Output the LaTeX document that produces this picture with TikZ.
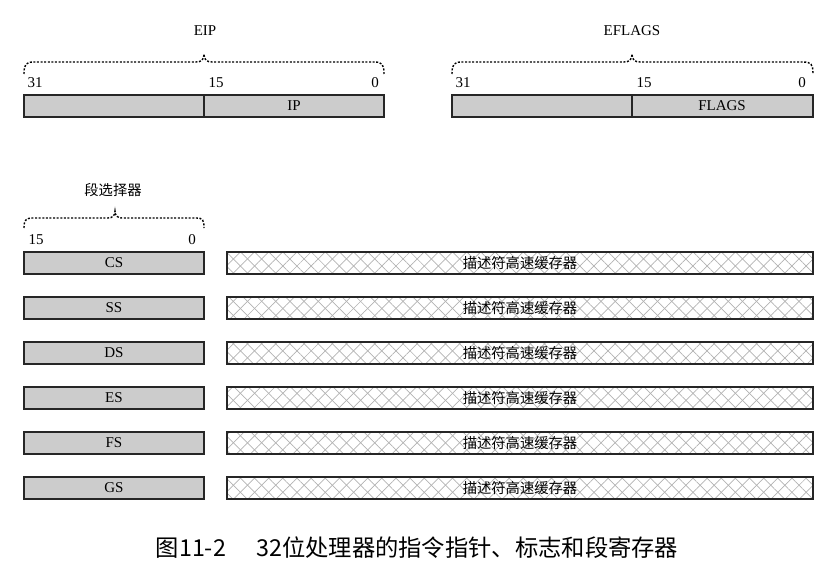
\documentclass[tikz,border=0pt]{standalone}
\usepackage{fontspec}
\setmainfont{Liberation Serif}
\newfontfamily\cjk{Noto Sans CJK SC}
\usetikzlibrary{patterns.meta}
\begin{document}
\begin{tikzpicture}[x=1pt,y=-1pt,
  regbox/.style={draw=black!85,line width=1.6pt,fill=black!20},
  cachebox/.style={draw=black!85,line width=1.6pt},
  bitlbl/.style={font=\fontsize{15}{15}\selectfont,inner sep=0pt},
  reglbl/.style={font=\fontsize{15}{15}\selectfont,inner sep=0pt},
  toplbl/.style={font=\fontsize{15}{15}\selectfont,inner sep=0pt},
  cjklbl/.style={font=\cjk\fontsize{14.3}{14.3}\selectfont,inner sep=0pt},
  bracepath/.style={dash pattern=on 2pt off 1.6pt,line width=1.4pt},
]
\useasboundingbox (0,0) rectangle (833,563);

% ---- EIP ----
\draw[regbox] (24,95) rectangle (384,117);
\draw[line width=1.2pt,black!85] (204,95) -- (204,117);
\node[reglbl] (ip) at (294,106) {IP};
\node[bitlbl] (e31) at (35,83) {31};
\node[bitlbl] (e15) at (216,83) {15};
\node[bitlbl] (e0) at (375,83) {0};
\draw[bracepath] (24,74) .. controls (24,64) and (26,62) .. (34,62) -- (196,62) .. controls (201,62) and (204,60) .. (204,54)
  .. controls (204,60) and (207,62) .. (212,62) -- (374,62) .. controls (382,62) and (384,64) .. (384,74);
\node[toplbl] (eip) at (205,31) {EIP};

% ---- EFLAGS ----
\draw[regbox] (452,95) rectangle (813,117);
\draw[line width=1.2pt,black!85] (632,95) -- (632,117);
\node[reglbl] (flags) at (722,106) {FLAGS};
\node[bitlbl] (f31) at (463,83) {31};
\node[bitlbl] (f15) at (644,83) {15};
\node[bitlbl] (f0) at (802,83) {0};
\draw[bracepath] (452,74) .. controls (452,64) and (454,62) .. (462,62) -- (624,62) .. controls (629,62) and (632,60) .. (632,54)
  .. controls (632,60) and (635,62) .. (640,62) -- (803,62) .. controls (811,62) and (813,64) .. (813,74);
\node[toplbl] (eflags) at (632,31) {EFLAGS};

% ---- segment selectors ----
\node[cjklbl] (sel) at (113,190) {段选择器};
\draw[bracepath] (24,228) .. controls (24,220) and (26,218) .. (33,218) -- (108,218) .. controls (112,218) and (115,216) .. (115,211)
  .. controls (115,216) and (118,218) .. (122,218) -- (196,218) .. controls (203,218) and (204,220) .. (204,228);
\node[bitlbl] (s15) at (36,240) {15};
\node[bitlbl] (s0) at (192,240) {0};

\foreach \r/\y in {CS/263,SS/308,DS/353,ES/398,FS/443,GS/488}{
  \draw[regbox] (24,\y-11) rectangle (204,\y+11);
  \node[reglbl] (\r) at (114,\y) {\r};
  \fill[pattern={Lines[angle=45,distance=10pt,line width=0.7pt]},pattern color=black!30] (227,\y-11) rectangle (813,\y+11);
  \fill[pattern={Lines[angle=-45,distance=10pt,line width=0.7pt]},pattern color=black!30] (227,\y-11) rectangle (813,\y+11);
  \draw[cachebox] (227,\y-11) rectangle (813,\y+11);
  \node[cjklbl] (cache\r) at (520,\y) {描述符高速缓存器};
}

% ---- caption ----
\node[font=\cjk\fontsize{23.3}{23.3}\selectfont,inner sep=0pt] (cap) at (417,548) {图11-2\hspace{1.3em}32位处理器的指令指针、标志和段寄存器};
\end{tikzpicture}
\end{document}
